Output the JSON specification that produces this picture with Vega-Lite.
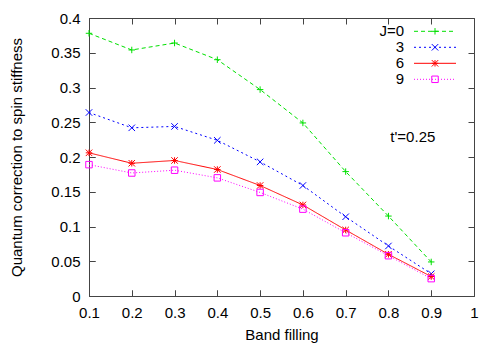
{
  "$schema": "https://vega.github.io/schema/vega-lite/v6.json",
  "width": 385,
  "height": 278,
  "autosize": {"type": "none"},
  "padding": {"left": 89, "top": 18, "right": 17, "bottom": 47},
  "background": "white",
  "config": {
    "font": "Liberation Sans",
    "view": {"stroke": "#444", "strokeWidth": 1},
    "axis": {
      "domain": false,
      "labelFont": "Liberation Sans",
      "labelFontSize": 15,
      "labelColor": "#000",
      "titleFont": "Liberation Sans",
      "titleFontSize": 15,
      "titleFontWeight": "normal",
      "titleColor": "#000",
      "gridColor": "#444",
      "gridOpacity": 1,
      "gridWidth": 1,
      "tickColor": "#444"
    }
  },
  "data": {
    "values": [
      {"x": 0.1, "y": 0.378, "series": "J=0", "Jn": "0"},
      {"x": 0.2, "y": 0.354, "series": "J=0", "Jn": "0"},
      {"x": 0.3, "y": 0.364, "series": "J=0", "Jn": "0"},
      {"x": 0.4, "y": 0.340, "series": "J=0", "Jn": "0"},
      {"x": 0.5, "y": 0.297, "series": "J=0", "Jn": "0"},
      {"x": 0.6, "y": 0.249, "series": "J=0", "Jn": "0"},
      {"x": 0.7, "y": 0.179, "series": "J=0", "Jn": "0"},
      {"x": 0.8, "y": 0.115, "series": "J=0", "Jn": "0"},
      {"x": 0.9, "y": 0.049, "series": "J=0", "Jn": "0"},
      {"x": 0.1, "y": 0.264, "series": "3", "Jn": "3"},
      {"x": 0.2, "y": 0.242, "series": "3", "Jn": "3"},
      {"x": 0.3, "y": 0.244, "series": "3", "Jn": "3"},
      {"x": 0.4, "y": 0.224, "series": "3", "Jn": "3"},
      {"x": 0.5, "y": 0.193, "series": "3", "Jn": "3"},
      {"x": 0.6, "y": 0.159, "series": "3", "Jn": "3"},
      {"x": 0.7, "y": 0.114, "series": "3", "Jn": "3"},
      {"x": 0.8, "y": 0.072, "series": "3", "Jn": "3"},
      {"x": 0.9, "y": 0.032, "series": "3", "Jn": "3"},
      {"x": 0.1, "y": 0.206, "series": "6", "Jn": "6"},
      {"x": 0.2, "y": 0.191, "series": "6", "Jn": "6"},
      {"x": 0.3, "y": 0.195, "series": "6", "Jn": "6"},
      {"x": 0.4, "y": 0.182, "series": "6", "Jn": "6"},
      {"x": 0.5, "y": 0.159, "series": "6", "Jn": "6"},
      {"x": 0.6, "y": 0.131, "series": "6", "Jn": "6"},
      {"x": 0.7, "y": 0.095, "series": "6", "Jn": "6"},
      {"x": 0.8, "y": 0.060, "series": "6", "Jn": "6"},
      {"x": 0.9, "y": 0.028, "series": "6", "Jn": "6"},
      {"x": 0.1, "y": 0.189, "series": "9", "Jn": "9"},
      {"x": 0.2, "y": 0.177, "series": "9", "Jn": "9"},
      {"x": 0.3, "y": 0.181, "series": "9", "Jn": "9"},
      {"x": 0.4, "y": 0.170, "series": "9", "Jn": "9"},
      {"x": 0.5, "y": 0.149, "series": "9", "Jn": "9"},
      {"x": 0.6, "y": 0.125, "series": "9", "Jn": "9"},
      {"x": 0.7, "y": 0.091, "series": "9", "Jn": "9"},
      {"x": 0.8, "y": 0.058, "series": "9", "Jn": "9"},
      {"x": 0.9, "y": 0.025, "series": "9", "Jn": "9"}
    ]
  },
  "layer": [
    {
      "mark": {"type": "line", "strokeWidth": 1},
      "encoding": {
        "x": {
          "field": "x", "type": "quantitative",
          "scale": {"domain": [0.1, 1], "nice": false, "zero": false},
          "axis": {
            "orient": "bottom",
            "values": [0.1, 0.2, 0.3, 0.4, 0.5, 0.6, 0.7, 0.8, 0.9, 1],
            "format": "~g",
            "title": "Band filling",
            "titleBaseline": "alphabetic",
            "titleY": 43,
            "grid": true,
            "gridDash": [6, 266, 6],
            "ticks": true,
            "tickSize": -6,
            "labelPadding": 15,
            "labelOverlap": false,
            "labelFlush": false
          }
        },
        "y": {
          "field": "y", "type": "quantitative",
          "scale": {"domain": [0, 0.4], "nice": false, "zero": false},
          "axis": {
            "orient": "left",
            "values": [0, 0.05, 0.1, 0.15, 0.2, 0.25, 0.3, 0.35, 0.4],
            "format": "~g",
            "title": "Quantum correction to spin stiffness",
            "titleBaseline": "alphabetic",
            "titleX": -68,
            "grid": true,
            "gridDash": [6, 373, 6],
            "ticks": true,
            "tickSize": -6,
            "labelPadding": 15,
            "labelOverlap": false,
            "labelFlush": false
          }
        },
        "color": {
          "field": "series", "type": "nominal",
          "scale": {"domain": ["J=0", "3", "6", "9"], "range": ["#00e000", "#0000ff", "#ff0000", "#ff00ff"]},
          "legend": {
            "orient": "none", "legendX": 298.5, "legendY": 5.8, "title": null,
            "symbolType": "M-5,0H5", "symbolSize": 70.56, "symbolStrokeWidth": 1,
            "rowPadding": 0, "labelAlign": "right",
            "labelOffset": -38.5, "symbolOffset": 40, "labelFontSize": 15,
            "labelFont": "Liberation Sans", "labelColor": "#000", "padding": 0
          }
        },
        "strokeDash": {
          "field": "series", "type": "nominal",
          "scale": {"domain": ["J=0", "3", "6", "9"], "range": [[4, 3], [2, 3], [1, 0], [1, 2]]},
          "legend": {
            "orient": "none", "legendX": 298.5, "legendY": 5.8, "title": null,
            "symbolType": "M-5,0H5", "symbolSize": 70.56, "symbolStrokeWidth": 1,
            "rowPadding": 0, "labelAlign": "right",
            "labelOffset": -38.5, "symbolOffset": 40, "labelFontSize": 15,
            "labelFont": "Liberation Sans", "labelColor": "#000", "padding": 0
          }
        }
      }
    },
    {
      "mark": {"type": "point", "filled": false, "size": 42, "strokeWidth": 1, "opacity": 1},
      "encoding": {
        "x": {"field": "x", "type": "quantitative", "axis": null},
        "y": {"field": "y", "type": "quantitative", "axis": null},
        "stroke": {
          "field": "series", "type": "nominal",
          "scale": {"domain": ["J=0", "3", "6", "9"], "range": ["#00e000", "#0000ff", "#ff0000", "#ff00ff"]},
          "legend": null
        },
        "shape": {
          "field": "Jn", "type": "nominal",
          "scale": {"range": [
            "M-1,0H1M0,-1V1",
            "M-1,-1L1,1M-1,1L1,-1",
            "M-1,0H1M0,-1V1M-1,-1L1,1M-1,1L1,-1",
            "M-1,-1H1V1H-1Z"
          ]},
          "legend": {
            "orient": "none", "legendX": 338.5, "legendY": 5.8, "title": null,
            "symbolSize": 42, "symbolStrokeWidth": 1, "symbolFillColor": "transparent",
            "rowPadding": 0, "labelOpacity": 0, "labelFontSize": 15,
            "symbolOffset": 0, "padding": 0,
            "encoding": {
              "symbols": {
                "stroke": {"value": {"expr": "datum.value=='0' ? '#00e000' : datum.value=='3' ? '#0000ff' : datum.value=='6' ? '#ff0000' : '#ff00ff'"}},
                "fill": {"value": "transparent"}
              }
            }
          }
        }
      }
    },
    {
      "data": {"values": [{"label": "t'=0.25"}]},
      "mark": {"type": "text", "fontSize": 15, "font": "Liberation Sans", "align": "center", "baseline": "middle", "color": "#000"},
      "encoding": {
        "text": {"field": "label"},
        "x": {"datum": 0.857, "type": "quantitative", "axis": null},
        "y": {"datum": 0.229, "type": "quantitative", "axis": null}
      }
    }
  ],
  "resolve": {"axis": {"x": "independent", "y": "independent"}}
}
